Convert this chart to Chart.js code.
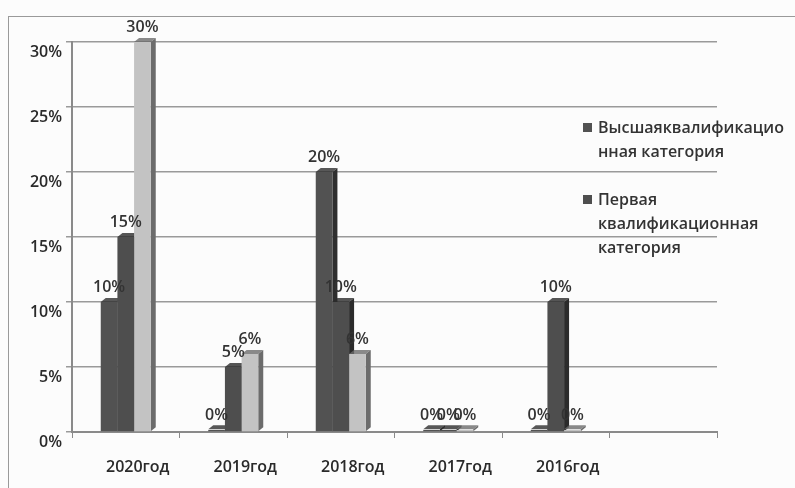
<!DOCTYPE html>
<html>
<head>
<meta charset="utf-8">
<script src="https://cdn.jsdelivr.net/npm/chart.js@4/dist/chart.umd.min.js"></script>
<style>
  body { margin: 0; background: #fcfcfc; }
  #wrap { position: relative; width: 795px; height: 488px; overflow: hidden; }
  #frame { position: absolute; left: 8px; top: 16px; width: 820px; height: 500px; border: 1px solid #9a9a9a; }
  canvas { position: absolute; left: 0; top: 0; }
  #legend { position: absolute; left: 583px; top: 115px; font: 600 16px "Open Sans", sans-serif; color: #333; line-height: 24px; }
  .item { position: relative; padding-left: 15px; margin-bottom: 24px; width: 200px; }
  .sq { position: absolute; left: 0; top: 8px; width: 9px; height: 9px; }
</style>
</head>
<body>
<div id="wrap">
  <div id="frame"></div>
  <canvas id="grafico" width="795" height="488"></canvas>
  <div id="legend"></div>
</div>
<script>
// categorias (la sexta queda vacia como en el original)
var anios = ['2020год', '2019год', '2018год', '2017год', '2016год', ''];
var nombres = ['Высшаяквалификационная категория', 'Первая квалификационная категория', 'Вторая квалификационная категория'];
var serie1 = [10, 0, 20, 0, 0, null];
var serie2 = [15, 5, 10, 0, 10, null];
var serie3 = [30, 6, 6, 0, 0, null];
var ticksY = [0, 5, 10, 15, 20, 25, 30];

var colores = ['#525252', '#4e4e4e', '#c3c3c3'];
var lados = ['#2e2e2e', '#2b2b2b', '#6c6c6c'];
var fuente = '"Open Sans", sans-serif';

// leyenda (solo se ven dos entradas en la imagen)
var leyenda = document.getElementById('legend');
var textos = ['Высшаяквалификацио<br>нная категория', 'Первая<br>квалификационная<br>категория'];
for (var i = 0; i < 2; i++) {
    var d = document.createElement('div');
    d.className = 'item';
    d.innerHTML = '<span class="sq" style="background:' + colores[i] + '"></span>' + textos[i];
    leyenda.appendChild(d);
}

// caras laterales para imitar el 3D + etiquetas de valor
const caras3d = {
    id: 'caras3d',
    beforeDatasetsDraw(chart) {
        const ctx = chart.ctx;
        const dx = 5, dy = 4;
        chart.data.datasets.forEach((ds, i) => {
            chart.getDatasetMeta(i).data.forEach((bar, j) => {
                if (ds.data[j] === null) return;
                const w = bar.width / 2;
                const top = Math.min(bar.y, bar.base - 2);
                ctx.save();
                ctx.fillStyle = lados[i];
                ctx.beginPath();
                ctx.moveTo(bar.x + w, top);
                ctx.lineTo(bar.x + w + dx, top - dy);
                ctx.lineTo(bar.x + w + dx, bar.base - dy);
                ctx.lineTo(bar.x + w, bar.base);
                ctx.closePath();
                ctx.fill();
                ctx.globalAlpha = 0.8;
                ctx.beginPath();
                ctx.moveTo(bar.x - w, top);
                ctx.lineTo(bar.x - w + dx, top - dy);
                ctx.lineTo(bar.x + w + dx, top - dy);
                ctx.lineTo(bar.x + w, top);
                ctx.closePath();
                ctx.fill();
                ctx.restore();
            });
        });
    },
    afterDatasetsDraw(chart) {
        const ctx = chart.ctx;
        ctx.save();
        ctx.font = '600 16px ' + fuente;
        ctx.fillStyle = '#333';
        ctx.textAlign = 'center';
        ctx.textBaseline = 'bottom';
        chart.data.datasets.forEach((ds, i) => {
            chart.getDatasetMeta(i).data.forEach((bar, j) => {
                if (ds.data[j] === null) return;
                ctx.fillText(ds.data[j] + '%', bar.x, bar.y - 7);
            });
        });
        ctx.restore();
    }
};

const ctx = document.getElementById('grafico').getContext('2d');
new Chart(ctx, {
    type: 'bar',
    data: {
        labels: anios,
        datasets: [
            { label: nombres[0], data: serie1, backgroundColor: colores[0], minBarLength: 2 },
            { label: nombres[1], data: serie2, backgroundColor: colores[1], minBarLength: 2 },
            { label: nombres[2], data: serie3, backgroundColor: colores[2], minBarLength: 2 }
        ]
    },
    options: {
        responsive: false,
        animation: false,
        layout: { padding: { left: 0, right: 78, top: 42, bottom: 0 } },
        datasets: { bar: { categoryPercentage: 0.465, barPercentage: 1 } },
        plugins: { legend: { display: false }, tooltip: { enabled: false } },
        scales: {
            x: {
                afterFit: (s) => { s.height = 56; },
                grid: { display: true, drawOnChartArea: false, tickLength: 6, color: '#8a8a8a', offset: true },
                border: { color: '#8a8a8a', width: 2 },
                ticks: { color: '#2a2a2a', font: { family: 'Open Sans', size: 16, weight: '600' }, padding: 20, labelOffset: 12 }
            },
            y: {
                min: 0,
                max: 30,
                afterFit: (s) => { s.width = 72; },
                afterBuildTicks: (s) => { s.ticks = ticksY.map(v => ({ value: v })); },
                grid: { color: '#9a9a9a', lineWidth: 1.5, tickLength: 6 },
                border: { color: '#8a8a8a', width: 2 },
                ticks: {
                    color: '#2a2a2a',
                    font: { family: 'Open Sans', size: 16, weight: '600' },
                    padding: 4,
                    labelOffset: 10,
                    callback: (v) => v + '%'
                }
            }
        }
    },
    plugins: [caras3d]
});
</script>
</body>
</html>
